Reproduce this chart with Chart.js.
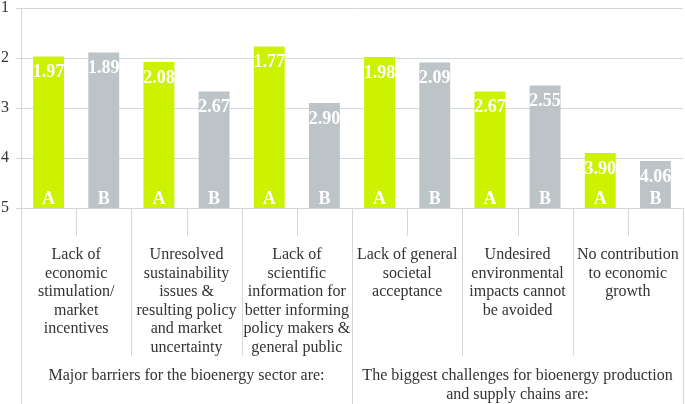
<!DOCTYPE html>
<html>
<head>
<meta charset="utf-8">
<script src="https://cdn.jsdelivr.net/npm/chart.js@4"></script>
<style>
  html, body { margin: 0; padding: 0; background: #fff; }
  #wrap { width: 685px; height: 404px; }
</style>
</head>
<body>
<div id="wrap"><canvas id="chart"></canvas></div>
<script>
/* DATA */
const categories = [
  ["Lack of", "economic", "stimulation/", "market", "incentives"],
  ["Unresolved", "sustainability", "issues &", "resulting policy", "and market", "uncertainty"],
  ["Lack of", "scientific", "information for", "better informing", "policy makers &", "general public"],
  ["Lack of general", "societal", "acceptance"],
  ["Undesired", "environmental", "impacts cannot", "be avoided"],
  ["No contribution", "to economic", "growth"]
];
const groups = [
  { label: ["Major barriers for the bioenergy sector are:"], from: 0, to: 3 },
  { label: ["The biggest challenges for bioenergy production", "and supply chains are:"], from: 3, to: 6 }
];
const seriesNames = ["A", "B"];
const valuesA = [1.97, 2.08, 1.77, 1.98, 2.67, 3.90];
const valuesB = [1.89, 2.67, 2.90, 2.09, 2.55, 4.06];
const yTicks = [1, 2, 3, 4, 5];

const colorA = "#ccf200";
const colorB = "#bcc4c7";
const lineColor = "#d3d8da";
const textColor = "#333333";
const serif = "'Liberation Serif', 'Times New Roman', serif";

/* interleave A/B bars */
const xLabels = [], barData = [], barColors = [], barValues = [];
categories.forEach((c, i) => {
  xLabels.push(seriesNames[0], seriesNames[1]);
  barData.push([5, valuesA[i]], [5, valuesB[i]]);
  barValues.push(valuesA[i], valuesB[i]);
  barColors.push(colorA, colorB);
});

const annotate = {
  id: "annotate",
  afterDatasetsDraw(chart) {
    const ctx = chart.ctx;
    const x = chart.scales.x, y = chart.scales.y;
    const bars = chart.getDatasetMeta(0).data;
    const base = y.getPixelForValue(5);
    ctx.save();
    ctx.fillStyle = "#fff";
    ctx.textAlign = "center";
    ctx.textBaseline = "middle";
    ctx.font = "bold 18px " + serif;
    bars.forEach((b, i) => {
      ctx.fillText(barValues[i].toFixed(2), b.x, y.getPixelForValue(barValues[i]) + 16);
      ctx.fillText(xLabels[i], b.x, base - 9);
    });

    /* lines below the axis */
    const step = (x.getPixelForValue(1) - x.getPixelForValue(0));
    const edge = i => x.getPixelForValue(0) - step / 2 + step * i;
    ctx.strokeStyle = lineColor;
    ctx.lineWidth = 1;
    const vline = (px, y0, y1) => {
      ctx.beginPath();
      ctx.moveTo(Math.round(px) + 0.5, y0);
      ctx.lineTo(Math.round(px) + 0.5, y1);
      ctx.stroke();
    };
    for (let i = 0; i <= 12; i++) {
      let bottom;
      if (i === 0 || i === 6 || i === 12) bottom = chart.height;
      else if (i % 2 === 0) bottom = base + 148;
      else bottom = base + 28;
      vline(edge(i), base, bottom);
    }

    /* category texts */
    ctx.fillStyle = textColor;
    ctx.font = "16px " + serif;
    categories.forEach((lines, i) => {
      const cx = edge(2 * i + 1);
      lines.forEach((t, k) => ctx.fillText(t, cx, base + 47 + k * 18.5));
    });
    groups.forEach(g => {
      const cx = (edge(2 * g.from) + edge(2 * g.to)) / 2;
      g.label.forEach((t, k) => ctx.fillText(t, cx, base + 168 + k * 19));
    });
    ctx.restore();
  }
};

new Chart(document.getElementById("chart"), {
  type: "bar",
  data: {
    labels: xLabels,
    datasets: [{
      data: barData,
      backgroundColor: barColors,
      borderWidth: 0,
      categoryPercentage: 1,
      barPercentage: 0.56
    }]
  },
  options: {
    responsive: true,
    maintainAspectRatio: false,
    animation: false,
    layout: { padding: { top: 8, right: 2, left: 0, bottom: 0 } },
    plugins: { legend: { display: false }, tooltip: { enabled: false } },
    scales: {
      x: {
        ticks: { display: false },
        grid: { display: false },
        border: { display: false },
        afterFit: s => { s.height = 196; s.paddingLeft = 0; s.paddingRight = 0; }
      },
      y: {
        reverse: true,
        min: yTicks[0],
        max: yTicks[yTicks.length - 1],
        afterBuildTicks: s => { s.ticks = yTicks.map(v => ({ value: v })); },
        ticks: { color: textColor, font: { family: serif, size: 16 }, padding: 7 },
        grid: { color: lineColor, tickLength: 5 },
        border: { color: lineColor },
        afterFit: s => { s.width = 21; s.paddingTop = 0; s.paddingBottom = 0; }
      }
    }
  },
  plugins: [annotate]
});
</script>
</body>
</html>
